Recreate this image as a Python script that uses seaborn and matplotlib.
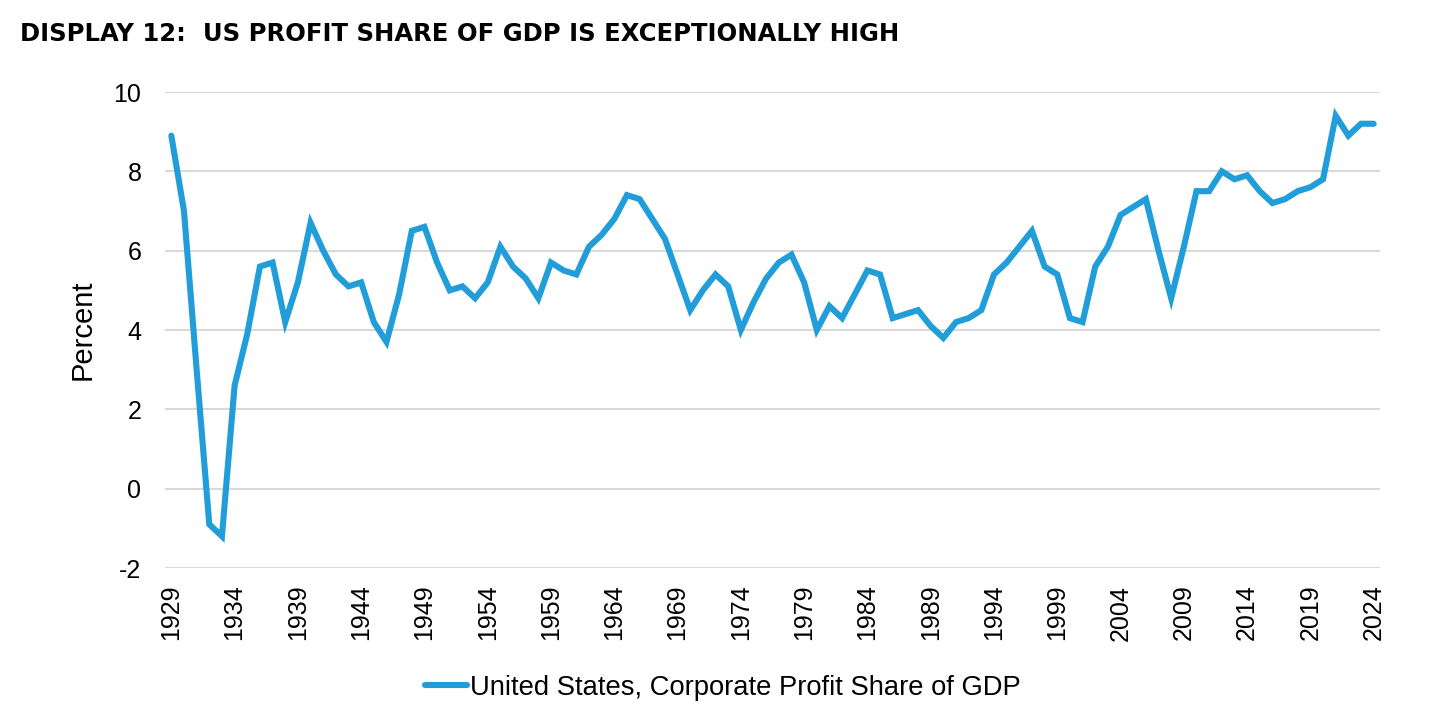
import numpy as np
import pandas as pd
import matplotlib
matplotlib.use("Agg")
import matplotlib.pyplot as plt
import seaborn as sns
from matplotlib.lines import Line2D

years = list(range(1929, 2025))
profit_share = [
    8.9, 7.0, 3.0, -0.9, -1.2, 2.6, 3.9, 5.6, 5.7, 4.2,   # 1929-1938
    5.2, 6.7, 6.0, 5.4, 5.1, 5.2, 4.2, 3.7, 4.9, 6.5,     # 1939-1948
    6.6, 5.7, 5.0, 5.1, 4.8, 5.2, 6.1, 5.6, 5.3, 4.8,     # 1949-1958
    5.7, 5.5, 5.4, 6.1, 6.4, 6.8, 7.4, 7.3, 6.8, 6.3,     # 1959-1968
    5.4, 4.5, 5.0, 5.4, 5.1, 4.0, 4.7, 5.3, 5.7, 5.9,     # 1969-1978
    5.2, 4.0, 4.6, 4.3, 4.9, 5.5, 5.4, 4.3, 4.4, 4.5,     # 1979-1988
    4.1, 3.8, 4.2, 4.3, 4.5, 5.4, 5.7, 6.1, 6.5, 5.6,     # 1989-1998
    5.4, 4.3, 4.2, 5.6, 6.1, 6.9, 7.1, 7.3, 6.0, 4.8,     # 1999-2008
    6.1, 7.5, 7.5, 8.0, 7.8, 7.9, 7.5, 7.2, 7.3, 7.5,     # 2009-2018
    7.6, 7.8, 9.4, 8.9, 9.2, 9.2,                         # 2019-2024
]
series_name = "United States, Corporate Profit Share of GDP"
title = "DISPLAY 12:  US PROFIT SHARE OF GDP IS EXCEPTIONALLY HIGH"
y_ticks = [-2, 0, 2, 4, 6, 8, 10]
x_ticks = list(range(1929, 2025, 5))

df = pd.DataFrame({"Year": years, "Value": profit_share, "Series": series_name})

sns.set_style("white")
plt.rcParams["font.family"] = ["Liberation Sans", "DejaVu Sans"]
plt.rcParams["text.color"] = "black"
plt.rcParams["axes.labelcolor"] = "black"

W, H = 1439, 721
fig = plt.figure(figsize=(W / 100, H / 100), dpi=100)
ax = fig.add_axes([165 / W, 1 - 568 / H, (1380 - 165) / W, (568 - 92) / H])

line_color = "#219ED9"
sns.lineplot(data=df, x="Year", y="Value", ax=ax, color=line_color,
             linewidth=4.4, legend=False, solid_joinstyle="miter")

ax.set_xlim(1928.5, 2024.5)
ax.set_ylim(-2, 10)
ax.set_yticks(y_ticks)
ax.set_yticklabels([str(v) for v in y_ticks])
ax.set_xticks(x_ticks)
ax.set_xticklabels([str(v) for v in x_ticks], rotation=90)
ax.tick_params(axis="both", length=0, labelsize=18, colors="black")
ax.tick_params(axis="y", pad=17)
ax.tick_params(axis="x", pad=12)
ax.yaxis.grid(True, color="#d9d9d9", linewidth=1.5)
ax.xaxis.grid(False)
ax.set_axisbelow(True)
for s in ax.spines.values():
    s.set_visible(False)
ax.set_xlabel("")
ax.set_ylabel("Percent", fontsize=21, color="black")
ax.yaxis.set_label_coords(-0.056, 0.5)

fig.text(20 / W, 1 - 34 / H, title, fontsize=17.5, fontweight="heavy",
         family=["DejaVu Sans"], va="center", ha="left", color="black")

handle = Line2D([], [], color=line_color, linewidth=4.4, solid_capstyle="round")
fig.legend([handle], [series_name], loc="center",
           bbox_to_anchor=(723 / W, 1 - 688 / H), frameon=False,
           fontsize=19.7, handlelength=1.55, handletextpad=0.12,
           labelcolor="black")

fig.savefig("out.png", dpi=100)
